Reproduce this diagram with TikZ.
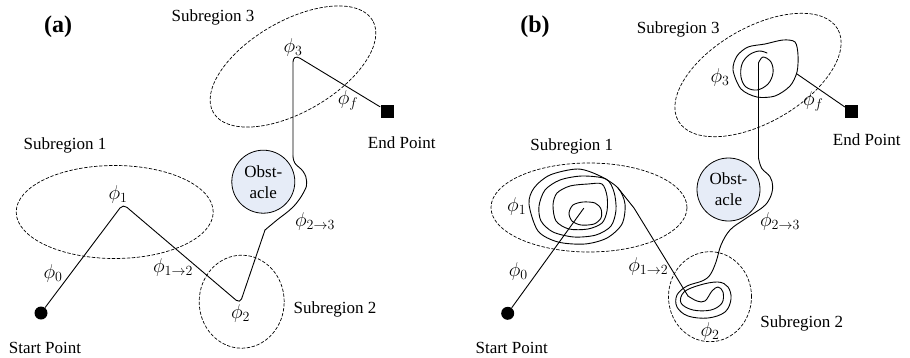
\documentclass[tikz,border=0pt]{standalone}
\usepackage{fix-cm}
\usepackage{fontspec}
\setmainfont{Liberation Serif}
\usetikzlibrary{shapes.geometric}
\definecolor{obstfill}{RGB}{230,236,247}

\begin{document}
\begin{tikzpicture}[
  x=1pt,y=-1pt,every node/.style={font=\fontsize{17}{21}\selectfont,inner sep=0pt},
  every path/.style={line width=.9pt,line cap=round,line join=round},
  region/.style={ellipse,draw,dash pattern=on 3pt off 2pt,line width=.7pt},
  obst/.style={circle,draw,fill=obstfill,minimum size=63pt,align=center,line width=.8pt},
  startdot/.style={circle,fill=black,minimum size=13pt},
  enddot/.style={rectangle,fill=black,minimum size=13pt},
  philab/.style={font=\fontsize{20}{24}\selectfont},
  tag/.style={font=\fontsize{24}{28}\selectfont\bfseries}]
  \useasboundingbox (0,0) rectangle (910,357);

  % (a): straight runs between the subregions, one bend round the obstacle
  \node[tag] (taga) at (58,27) {(a)};
  \node[region,minimum width=184pt,minimum height=91pt,rotate=30] (sub3a) at (293,66.5) {};
  \node[region,minimum width=197pt,minimum height=93pt] (sub1a) at (114.7,212) {};
  \node[region,minimum width=85pt,minimum height=93pt] (sub2a) at (241.7,301.7) {};
  \node (s3a) at (213,17) {Subregion 3};
  \node (s1a) at (65,145) {Subregion 1};
  \node (s2a) at (335,309) {Subregion 2};
  \node[obst] (oba) at (263.3,181.7) {Obst-\\acle};
  \node[startdot] (starta) at (41,313) {};
  \node[enddot] (enda) at (387,111) {};
  \node (sta) at (45,348.3) {Start Point};
  \node (eta) at (401.7,142.7) {End Point};
  \coordinate (p1a) at (123,204);
  \coordinate (p2a) at (240,303.5);
  \coordinate (k1a) at (265,230);
  \coordinate (k2a) at (293,156);
  \coordinate (p3a) at (293,54);
  \draw[rounded corners=5] (starta) -- (p1a) -- (p2a) -- (k1a);
  \draw plot[smooth,tension=.7] coordinates {(k1a) (277,220) (293.3,206.7)
    (304,191.7) (306.7,181.7) (303.3,171.7) (295,163.3) (k2a)};
  \draw[rounded corners=8] (k2a) -- (p3a) -- (enda);
  \node[philab] (f0a) at (53,273) {$\phi_0$};
  \node[philab] (f1a) at (118,194) {$\phi_1$};
  \node[philab] (f12a) at (173,267) {$\phi_{1\to2}$};
  \node[philab] (f2a) at (240.5,313) {$\phi_2$};
  \node[philab] (f23a) at (315,221.7) {$\phi_{2\to3}$};
  \node[philab] (f3a) at (293,47) {$\phi_3$};
  \node[philab] (ffa) at (348,100) {$\phi_f$};

  % (b): the same route, but the path loops inside each subregion
  \node[tag] (tagb) at (535,27) {(b)};
  \node[region,minimum width=184pt,minimum height=95pt,rotate=30] (sub3b) at (758,75) {};
  \node[region,minimum width=196pt,minimum height=89pt] (sub1b) at (589,207.5) {};
  \node[region,minimum width=83pt,minimum height=90pt] (sub2b) at (710,296.7) {};
  \node (s3b) at (678.3,29.3) {Subregion 3};
  \node (s1b) at (571.7,146.7) {Subregion 1};
  \node (s2b) at (801.7,323.3) {Subregion 2};
  \node[obst] (obb) at (728.5,189.5) {Obst-\\acle};
  \node[startdot] (startb) at (507.7,313.3) {};
  \node[enddot] (endb) at (851.7,111.7) {};
  \node (stb) at (511.7,348.3) {Start Point};
  \node (etb) at (866.7,139.3) {End Point};
  % loops round phi_1
  \draw plot[smooth cycle] coordinates {(569,213) (573,205) (583,202) (595,203)
    (601,209) (601,218) (594,224) (581,225) (572,221)};
  \draw plot[smooth cycle] coordinates {(553,205) (557,193) (570,186) (588,184)
    (602,184) (607,196) (607,211) (602,223) (588,229) (569,229) (556,221)};
  \draw plot[smooth cycle] coordinates {(539,206) (545,190) (560,180) (582,176)
    (606,179) (614,192) (616,210) (611,226) (596,235) (574,237) (553,232) (541,221)};
  \draw plot[smooth cycle] coordinates {(529,204) (534,188) (550,175) (578,169)
    (600,176) (618,188) (625,204) (622,224) (607,238) (585,244) (558,242) (538,231)};
  \coordinate (c1b) at (583.7,208.3);
  \coordinate (x1b) at (618,188);
  \coordinate (b1b) at (634,208);
  \coordinate (h2b) at (688,296);
  \coordinate (k2b) at (758.5,158);
  \coordinate (t3b) at (758.5,63);
  \coordinate (x3b) at (797,74);
  \draw (startb) -- (c1b);
  \draw (x1b) -- (b1b) -- (h2b);
  % loops round phi_2, then up past the obstacle
  \draw plot[smooth,tension=.6] coordinates {(h2b) (697,301) (705,301) (712,291)
    (718,287) (723,292) (722,303) (711,310) (693,310) (681,303) (684,292) (700,285)
    (718,282) (728,287) (731,299) (725,312) (708,318) (688,316) (677,307) (677,295)
    (687,286) (702,281) (710,275) (716,262) (721,245) (730,230) (745,219) (763,207)
    (770,198) (772.7,186.7) (770,176.7) (761.7,168.3) (k2b)};
  \draw (k2b) -- (t3b);
  % loops round phi_3
  \draw plot[smooth,tension=.6] coordinates {(t3b) (763,57) (771,62) (773,73)
    (768,84) (757,90) (746,87) (741,77) (742,64) (749,55) (759,51) (767,53)};
  \draw plot[smooth cycle] coordinates {(733,70) (737,56) (748,47) (765,44)
    (783,40) (795,42) (798,55) (797,72) (790,86) (775,96) (757,97) (741,89)};
  \draw (x3b) -- (endb);
  \node[philab] (f0b) at (518.3,271.7) {$\phi_0$};
  \node[philab] (f1b) at (516.7,206.7) {$\phi_1$};
  \node[philab] (f12b) at (648.3,266.7) {$\phi_{1\to2}$};
  \node[philab] (f2b) at (710,331.7) {$\phi_2$};
  \node[philab] (f23b) at (780,221.7) {$\phi_{2\to3}$};
  \node[philab] (f3b) at (720,77) {$\phi_3$};
  \node[philab] (ffb) at (813.3,101.7) {$\phi_f$};
\end{tikzpicture}
\end{document}
